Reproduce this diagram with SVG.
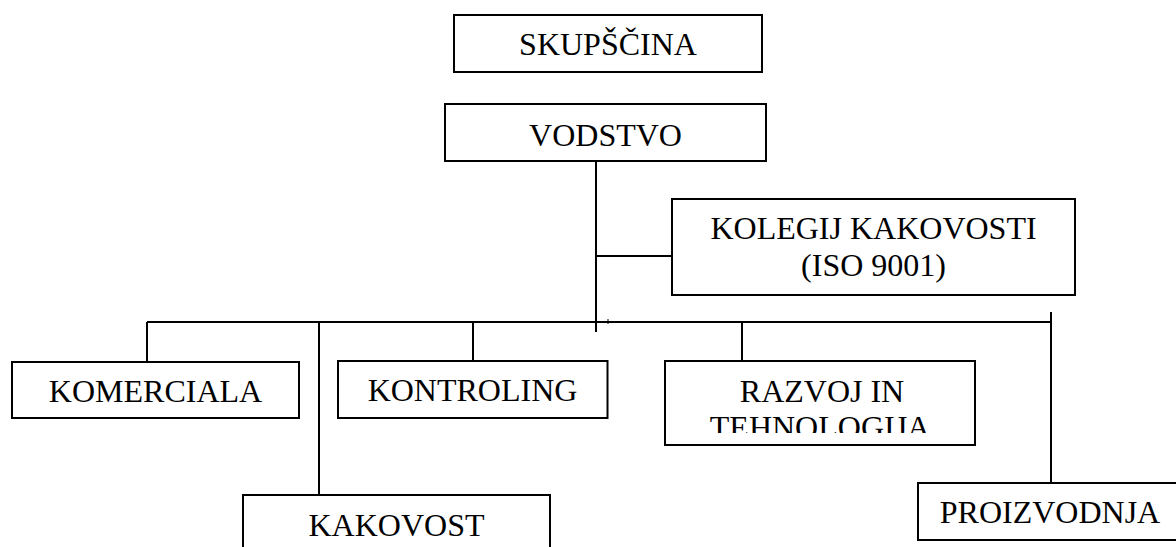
<svg xmlns="http://www.w3.org/2000/svg" width="1176" height="547" viewBox="0 0 1176 547">
<style>
.box{fill:#fff;stroke:#000;stroke-width:2}
.t{font-family:'Liberation Serif','Times New Roman',serif;font-size:32px;fill:#000;text-anchor:middle}
.c line{stroke:#000;stroke-width:2}
</style>
<defs>
<clipPath id="clipRaz"><rect x="666" y="362" width="308" height="71"/></clipPath>
</defs>
<rect width="1176" height="547" fill="#fff"/>
<g class="c" id="connectors">
<line x1="596" y1="161" x2="596" y2="332"/>
<line x1="596" y1="256" x2="672" y2="256"/>
<line x1="147" y1="322" x2="1051" y2="322"/>
<line x1="147" y1="322" x2="147" y2="362"/>
<line x1="319" y1="322" x2="319" y2="495"/>
<line x1="473" y1="322" x2="473" y2="361"/>
<line x1="742" y1="322" x2="742" y2="361"/>
<line x1="1051" y1="312" x2="1051" y2="483"/>
<line x1="608" y1="319" x2="608" y2="324" style="stroke-width:1"/>
</g>
<g id="skupscina"><rect class="box" x="454" y="15" width="308" height="57"/><text class="t" x="608" y="55">SKUPŠČINA</text></g>
<g id="vodstvo"><rect class="box" x="445" y="104" width="321" height="57"/><text class="t" x="605.5" y="146">VODSTVO</text></g>
<g id="kolegij"><rect class="box" x="672" y="199" width="403" height="96"/><text class="t" x="873.5" y="239">KOLEGIJ KAKOVOSTI</text><text class="t" x="873.5" y="276">(ISO 9001)</text></g>
<g id="komerciala"><rect class="box" x="12" y="362" width="287" height="56"/><text class="t" x="155.5" y="402">KOMERCIALA</text></g>
<g id="kontroling"><rect class="box" x="338" y="361" width="269.5" height="57"/><text class="t" x="472.5" y="401">KONTROLING</text></g>
<g id="razvoj"><rect class="box" x="665" y="361" width="310" height="84"/><g clip-path="url(#clipRaz)"><text class="t" x="822" y="402">RAZVOJ IN</text><text class="t" x="820" y="438">TEHNOLOGIJA</text></g></g>
<g id="kakovost"><rect class="box" x="243" y="495" width="307" height="70"/><text class="t" x="396.5" y="536">KAKOVOST</text></g>
<g id="proizvodnja"><rect class="box" x="918" y="483" width="264" height="57"/><text class="t" x="1050" y="523">PROIZVODNJA</text></g>
</svg>
